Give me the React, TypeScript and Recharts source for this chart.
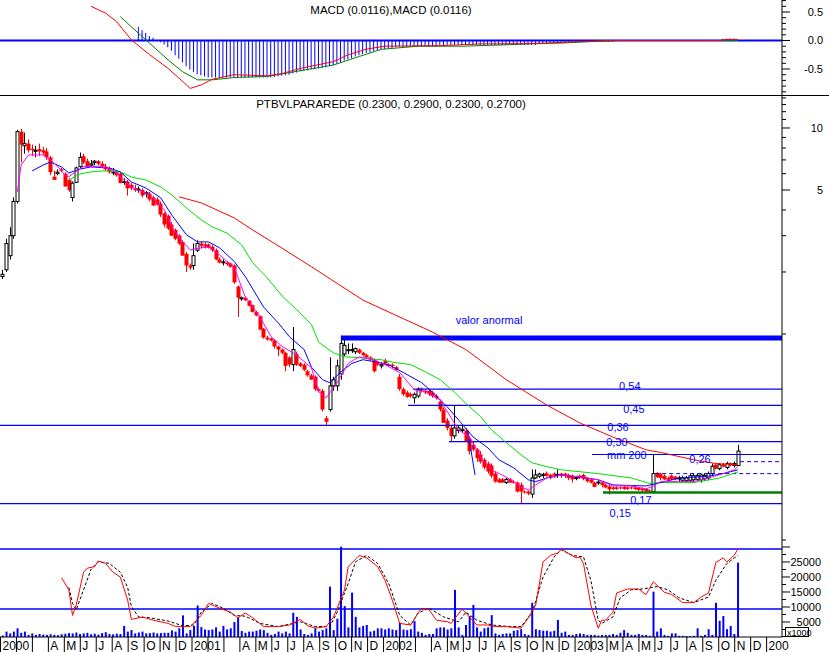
import {
  ComposedChart,
  Bar,
  Line,
  XAxis,
  YAxis,
  ReferenceLine,
  ReferenceDot,
} from "recharts";

// ---------------------------------------------------------------------------
// Weekly data, w = weeks since the first bar (early Jan 2000)
// ---------------------------------------------------------------------------

// [open, high, low, close]
const candles2000 = [
  [1.9, 2.05, 1.85, 1.95], [2.05, 2.9, 2.0, 2.75], [2.4, 3.3, 2.3, 3.0], [3.0, 4.6, 2.9, 4.4],
  [4.4, 9.8, 4.3, 9.6], [9.6, 9.9, 6.8, 8.3], [8.2, 9.5, 7.5, 8.4], [8.4, 8.8, 7.6, 7.8],
  [7.9, 8.3, 7.3, 7.8], [7.7, 8.2, 7.2, 7.8], [7.9, 8.4, 7.3, 7.7], [7.8, 8.1, 7.4, 7.6],
  [7.7, 8.0, 7.0, 7.2], [7.2, 7.3, 5.9, 6.1], [5.8, 6.2, 5.6, 5.6], [6.0, 6.3, 5.9, 6.1],
  [6.3, 6.4, 6.1, 6.2], [6.0, 6.1, 5.2, 5.2], [5.6, 5.7, 4.9, 5.0], [4.6, 5.5, 4.4, 5.4],
  [5.45, 6.5, 5.4, 6.4], [6.5, 7.6, 6.4, 7.2], [7.3, 7.5, 6.7, 6.8], [6.9, 7.1, 6.4, 6.5],
  [6.6, 7.0, 6.5, 6.7], [6.8, 7.0, 6.6, 6.9], [6.9, 7.0, 6.6, 6.7], [6.7, 6.9, 6.4, 6.5],
  [6.5, 6.7, 6.2, 6.3], [6.4, 6.5, 6.0, 6.1], [6.1, 6.4, 5.9, 6.12], [6.1, 6.2, 5.8, 5.9],
  [6.0, 6.1, 5.4, 5.4], [5.45, 5.7, 5.3, 5.5], [5.5, 5.6, 4.7, 5.1], [5.3, 5.4, 5.0, 5.1],
  [5.1, 5.3, 4.9, 5.0], [5.0, 5.2, 4.85, 5.05], [5.0, 5.1, 4.6, 4.7], [4.8, 4.95, 4.6, 4.85],
  [4.8, 4.9, 4.4, 4.5], [4.6, 4.7, 4.2, 4.2], [4.5, 4.6, 4.2, 4.25], [4.3, 4.4, 3.7, 3.8],
  [3.85, 3.9, 3.3, 3.4], [3.75, 3.8, 3.2, 3.25], [3.4, 3.5, 3.0, 3.0], [3.2, 3.25, 2.85, 2.9],
  [3.0, 3.05, 2.7, 2.75], [2.8, 2.85, 2.4, 2.4], [2.45, 2.5, 2.0, 2.15], [2.15, 2.2, 2.05, 2.1],
];

const candles2001 = [
  [2.15, 2.75, 2.05, 2.4], [2.55, 2.85, 2.5, 2.75], [2.75, 2.8, 2.6, 2.68], [2.72, 2.78, 2.6, 2.66],
  [2.72, 2.75, 2.6, 2.62], [2.65, 2.7, 2.5, 2.55], [2.55, 2.6, 2.28, 2.3], [2.3, 2.35, 2.2, 2.22],
  [2.22, 2.3, 2.15, 2.24], [2.22, 2.26, 2.15, 2.18], [2.2, 2.22, 2.1, 2.12], [2.15, 2.18, 1.75, 1.78],
  [1.7, 1.72, 1.21, 1.5], [1.48, 1.52, 1.45, 1.5], [1.5, 1.52, 1.44, 1.46], [1.45, 1.46, 1.36, 1.37],
  [1.38, 1.39, 1.27, 1.28], [1.28, 1.3, 1.22, 1.23], [1.22, 1.23, 1.05, 1.05], [1.06, 1.07, 0.95, 0.96],
  [0.96, 0.98, 0.93, 0.94], [0.95, 0.96, 0.92, 0.93], [0.93, 0.94, 0.85, 0.87], [0.87, 0.88, 0.78, 0.84],
  [0.84, 0.85, 0.8, 0.81], [0.81, 0.82, 0.66, 0.7], [0.77, 0.78, 0.69, 0.71], [0.71, 1.08, 0.66, 0.84],
  [0.8, 0.82, 0.7, 0.71], [0.72, 0.73, 0.69, 0.7], [0.71, 0.72, 0.66, 0.67], [0.66, 0.67, 0.62, 0.63],
  [0.63, 0.64, 0.6, 0.6], [0.62, 0.63, 0.53, 0.54], [0.54, 0.55, 0.52, 0.53], [0.53, 0.54, 0.42, 0.43],
  [0.39, 0.4, 0.36, 0.375], [0.43, 0.77, 0.42, 0.56], [0.56, 0.62, 0.53, 0.6], [0.56, 0.75, 0.53, 0.7],
  [0.64, 0.98, 0.6, 0.9], [0.8, 0.95, 0.78, 0.88], [0.83, 0.9, 0.8, 0.84], [0.83, 0.9, 0.81, 0.84],
  [0.82, 0.86, 0.8, 0.85], [0.84, 0.85, 0.8, 0.81], [0.81, 0.82, 0.78, 0.79], [0.79, 0.8, 0.76, 0.77],
  [0.77, 0.78, 0.74, 0.75], [0.75, 0.76, 0.65, 0.66], [0.73, 0.74, 0.7, 0.71], [0.7, 0.73, 0.68, 0.71],
];

const candles2002 = [
  [0.74, 0.76, 0.71, 0.72], [0.71, 0.72, 0.69, 0.7], [0.71, 0.72, 0.68, 0.7], [0.69, 0.7, 0.66, 0.67],
  [0.62, 0.64, 0.53, 0.54], [0.54, 0.55, 0.5, 0.51], [0.52, 0.53, 0.49, 0.495], [0.51, 0.52, 0.49, 0.5],
  [0.49, 0.52, 0.46, 0.51], [0.5, 0.55, 0.49, 0.54], [0.54, 0.55, 0.52, 0.53], [0.53, 0.54, 0.51, 0.52],
  [0.53, 0.54, 0.5, 0.51], [0.52, 0.53, 0.49, 0.5], [0.5, 0.51, 0.48, 0.49], [0.47, 0.48, 0.42, 0.43],
  [0.43, 0.44, 0.37, 0.37], [0.38, 0.39, 0.34, 0.35], [0.35, 0.36, 0.3, 0.32], [0.32, 0.45, 0.31, 0.35],
  [0.34, 0.36, 0.33, 0.35], [0.34, 0.36, 0.33, 0.345], [0.34, 0.35, 0.3, 0.3], [0.31, 0.32, 0.26, 0.27],
  [0.29, 0.3, 0.27, 0.275], [0.275, 0.28, 0.24, 0.25], [0.26, 0.27, 0.235, 0.24], [0.245, 0.25, 0.22, 0.225],
  [0.235, 0.24, 0.21, 0.215], [0.23, 0.235, 0.2, 0.205], [0.21, 0.215, 0.19, 0.192], [0.197, 0.2, 0.19, 0.19],
  [0.197, 0.2, 0.19, 0.19], [0.19, 0.2, 0.187, 0.197], [0.197, 0.2, 0.19, 0.19], [0.192, 0.195, 0.188, 0.19],
  [0.19, 0.192, 0.17, 0.172], [0.185, 0.19, 0.15, 0.172], [0.172, 0.174, 0.168, 0.17], [0.172, 0.174, 0.165, 0.168],
  [0.167, 0.22, 0.16, 0.2], [0.2, 0.22, 0.198, 0.207], [0.204, 0.212, 0.2, 0.209], [0.207, 0.212, 0.2, 0.208],
  [0.211, 0.215, 0.203, 0.205], [0.207, 0.21, 0.197, 0.2], [0.21, 0.213, 0.2, 0.205], [0.206, 0.22, 0.2, 0.208],
  [0.21, 0.212, 0.2, 0.205], [0.21, 0.212, 0.2, 0.205], [0.207, 0.21, 0.195, 0.2], [0.205, 0.208, 0.19, 0.197],
];

const candles2003 = [
  [0.2, 0.205, 0.195, 0.201], [0.205, 0.208, 0.198, 0.2], [0.207, 0.21, 0.195, 0.198], [0.2, 0.202, 0.19, 0.193],
  [0.196, 0.2, 0.188, 0.19], [0.19, 0.192, 0.18, 0.181], [0.19, 0.195, 0.185, 0.191], [0.19, 0.192, 0.18, 0.185],
  [0.185, 0.187, 0.178, 0.18], [0.182, 0.185, 0.166, 0.176], [0.18, 0.182, 0.175, 0.177], [0.18, 0.182, 0.175, 0.177],
  [0.18, 0.182, 0.176, 0.178], [0.181, 0.183, 0.175, 0.177], [0.18, 0.182, 0.175, 0.177], [0.18, 0.182, 0.176, 0.178],
  [0.18, 0.182, 0.175, 0.177], [0.179, 0.181, 0.173, 0.175], [0.178, 0.18, 0.172, 0.174], [0.177, 0.179, 0.17, 0.172],
  [0.174, 0.176, 0.17, 0.173], [0.172, 0.26, 0.17, 0.21], [0.212, 0.213, 0.2, 0.202], [0.21, 0.212, 0.195, 0.2],
  [0.205, 0.208, 0.195, 0.197], [0.2, 0.203, 0.193, 0.196], [0.205, 0.208, 0.195, 0.198], [0.203, 0.205, 0.195, 0.197],
  [0.198, 0.205, 0.193, 0.2], [0.195, 0.205, 0.19, 0.2], [0.194, 0.205, 0.19, 0.2], [0.195, 0.21, 0.19, 0.205],
  [0.196, 0.21, 0.192, 0.205], [0.197, 0.21, 0.193, 0.206], [0.196, 0.21, 0.19, 0.207], [0.198, 0.21, 0.193, 0.206],
  [0.2, 0.215, 0.195, 0.21], [0.21, 0.235, 0.205, 0.228], [0.232, 0.235, 0.22, 0.222], [0.222, 0.236, 0.218, 0.232],
  [0.233, 0.236, 0.225, 0.227], [0.225, 0.24, 0.22, 0.235], [0.236, 0.238, 0.228, 0.23], [0.23, 0.24, 0.225, 0.235],
  [0.23, 0.29, 0.23, 0.27],
];

// volume (axis in x1000)
const volume2000 = [
  500, 1800, 1200, 1800, 2900, 1400, 1800, 700, 1200, 700,
  1000, 800, 700, 900, 700, 600, 900, 1100, 1300, 1200,
  1500, 1000, 1200, 1400, 900, 1100, 800, 1300, 1600, 1000,
  900, 1100, 1000, 3700, 1800, 2300, 1200, 1500, 1800, 1200,
  1300, 1500, 1200, 1300, 1400, 1400, 2200, 1800, 2900, 7200,
  1200, 2300,
];
const volume2001 = [
  3700, 10500, 3300, 2500, 2300, 2500, 3200, 1800, 3700, 2500,
  2900, 5000, 6500, 2000, 1400, 1800, 1800, 2100, 2500, 2300,
  1400, 700, 1000, 1800, 1200, 1800, 1200, 8100, 6700, 2500,
  1000, 700, 1200, 2900, 1800, 2300, 2900, 16800, 2300, 6100,
  30100, 10300, 3200, 14800, 6700, 3200, 3700, 4000, 1800, 2100,
  2900, 2900,
];
const volume2002 = [
  2500, 2900, 2500, 2300, 4800, 2500, 2300, 2600, 5300, 1800,
  1400, 700, 1000, 1000, 2900, 3200, 3200, 2500, 2900, 15700,
  3200, 700, 4000, 7000, 10700, 3200, 1800, 2900, 3200, 7300,
  1200, 700, 1000, 1200, 1200, 2100, 2300, 2600, 1000, 700,
  11400, 2600, 2300, 2100, 2100, 1800, 2100, 5700, 1400, 1800,
  700, 700,
];
const volume2003 = [
  1000, 1200, 1000, 700, 700, 700, 500, 700, 700, 700,
  1000, 700, 1400, 2300, 1400, 700, 700, 1000, 700, 700,
  400, 15100, 1800, 2900, 700, 400, 1200, 1200, 400, 400,
  300, 300, 400, 2900, 400, 700, 2600, 700, 11400, 5400,
  7000, 2600, 3700, 1000, 24800,
];

// MACD histogram, one value per week from week 37
const macdHistStart = 37;
const macdHist = [
  0.24, 0.18, 0.13, 0.08, 0.05, 0.01, -0.03, -0.07, -0.12, -0.18,
  -0.26, -0.32, -0.38, -0.45, -0.51, -0.55, -0.59, -0.61, -0.63, -0.65,
  -0.65, -0.65, -0.65, -0.65, -0.65, -0.65, -0.65, -0.65, -0.65, -0.65,
  -0.65, -0.65, -0.65, -0.65, -0.65, -0.65, -0.65, -0.64, -0.63, -0.62,
  -0.61, -0.6, -0.58, -0.56, -0.54, -0.53, -0.52, -0.51, -0.5, -0.49,
  -0.48, -0.47, -0.45, -0.43, -0.41, -0.38, -0.35, -0.33, -0.31, -0.28,
  -0.26, -0.24, -0.22, -0.21, -0.19, -0.17, -0.16, -0.15, -0.14, -0.13,
  -0.12, -0.11, -0.11, -0.11, -0.11, -0.11, -0.11, -0.11, -0.11, -0.11,
  -0.11, -0.11, -0.08, -0.08, -0.08, -0.08, -0.08, -0.08, -0.08, -0.08,
  -0.08, -0.08, -0.08, -0.08, -0.08, -0.08, -0.08, -0.08, -0.08, -0.08,
  -0.08, -0.08, -0.08, -0.08, -0.08, -0.08, -0.08, -0.08, -0.08, -0.045,
  -0.045, -0.045, -0.045, -0.045, -0.045, -0.045, -0.045, -0.045, -0.045, -0.045,
  -0.02, -0.02, -0.02, -0.02, -0.02, -0.02, -0.02, -0.02, -0.02, -0.02,
  -0.01, -0.01, -0.01, -0.01, -0.01, -0.01, -0.01, -0.01, -0.01,
];
const macdHistLateStart = 196;
const macdHistLate = [0.03, 0.03, 0.03, 0.03, 0.02];

// [week, value]
const macdLine = [
  [24, 0.6], [28, 0.48], [31, 0.33], [35, 0.01], [40, -0.25], [45, -0.49], [49, -0.72],
  [51, -0.84], [54, -0.78], [57, -0.68], [63, -0.6], [72, -0.62], [76, -0.58], [81, -0.49],
  [90, -0.37], [94, -0.25], [99, -0.15], [104, -0.1], [119, -0.09], [130, -0.06], [141, -0.055],
  [148, -0.045], [157, -0.02], [165, 0], [195, 0], [197, 0.02], [200, 0.02],
];
const macdSignal = [
  [32, 0.42], [35, 0.24], [40, -0.05], [45, -0.34], [49, -0.55], [53, -0.69], [57, -0.69],
  [63, -0.65], [72, -0.63], [81, -0.53], [90, -0.43], [97, -0.28], [103, -0.155], [113, -0.1],
  [125, -0.1], [135, -0.08], [143, -0.06], [152, -0.045], [160, -0.02], [168, 0], [200, 0],
];

// moving averages on the price panel, [week, price]
const maFast = [
  [4, 4.9], [5, 6.6], [7, 7.4], [11, 7.4], [13, 7.0], [15, 6.5], [17, 5.9], [18, 5.8], [20, 6.15],
  [22, 6.5], [24, 6.5], [26, 6.54], [30, 6.25], [35, 5.17], [40, 4.73], [44, 4.0], [46, 3.31],
  [49, 2.8], [51, 2.56], [54, 2.62], [56, 2.65], [59, 2.42], [63, 2.1], [66, 1.51], [70, 1.21],
  [73, 0.97], [76, 0.87], [80, 0.79], [84, 0.685], [86, 0.525], [88, 0.49], [91, 0.58], [94, 0.72],
  [97, 0.775], [101, 0.75], [104, 0.71], [108, 0.65], [112, 0.535], [115, 0.525], [119, 0.478],
  [122, 0.392], [124, 0.342], [127, 0.316], [130, 0.253], [133, 0.219], [137, 0.202], [141, 0.181],
  [143, 0.175], [145, 0.185], [148, 0.2], [152, 0.207], [157, 0.202], [162, 0.196], [166, 0.183],
  [171, 0.183], [175, 0.177], [177, 0.183], [179, 0.192], [188, 0.192], [192, 0.2], [196, 0.21],
  [199, 0.219], [200, 0.227],
];
const maMid = [
  [8, 6.19], [11, 6.61], [13, 6.84], [16, 6.47], [18, 6.05], [21, 6.32], [24, 6.47], [29, 6.39],
  [32, 6.12], [35, 5.47], [39, 5.11], [43, 4.58], [46, 3.78], [50, 3.03], [53, 2.8], [56, 2.8],
  [59, 2.62], [63, 2.25], [66, 1.9], [71, 1.35], [75, 1.13], [78, 0.97], [82, 0.84], [84, 0.69],
  [87, 0.6], [89, 0.58], [92, 0.655], [95, 0.72], [98, 0.75], [102, 0.73], [105, 0.71], [109, 0.65],
  [114, 0.58], [117, 0.52], [121, 0.442], [124, 0.383], [128, 0.316], [132, 0.28], [135, 0.245],
  [139, 0.224], [143, 0.196], [145, 0.192], [148, 0.2], [152, 0.207], [157, 0.202], [162, 0.196],
  [166, 0.185], [175, 0.183], [179, 0.19], [184, 0.2], [192, 0.204], [196, 0.21], [200, 0.219],
];
const maSlow = [
  [18, 5.59], [21, 5.98], [24, 6.12], [27, 6.19], [29, 6.19], [32, 6.12], [35, 5.78], [39, 5.59],
  [43, 5.17], [46, 4.73], [50, 4.09], [54, 3.58], [57, 3.31], [61, 3.09], [65, 2.71], [68, 2.22],
  [72, 1.87], [76, 1.53], [80, 1.31], [84, 1.11], [86, 0.91], [90, 0.81], [93, 0.775], [97, 0.767],
  [103, 0.75], [106, 0.73], [111, 0.71], [115, 0.655], [119, 0.6], [123, 0.52], [126, 0.46],
  [130, 0.397], [133, 0.342], [137, 0.297], [141, 0.259], [144, 0.237], [148, 0.227], [152, 0.219],
  [162, 0.21], [171, 0.2], [176, 0.188], [179, 0.19], [188, 0.19], [195, 0.2], [200, 0.214],
];
const maLong = [
  [48, 4.63], [54, 4.33], [63, 3.66], [68, 3.2], [76, 2.61], [84, 2.12], [98, 1.46], [117, 1.02],
  [126, 0.84], [137, 0.6], [148, 0.452], [157, 0.37], [166, 0.316], [170, 0.297], [175, 0.274],
  [179, 0.266], [188, 0.245], [194, 0.235], [200, 0.232],
];

// stochastic %K and %D, [week, value]
const stochK = [
  [16, 64], [18, 49], [19, 17], [20, 30], [22, 71], [23, 76], [25, 78], [26, 85], [28, 82], [30, 71],
  [32, 65], [34, 36], [35, 12], [38, 15], [41, 11], [45, 7], [47, 3], [51, 3], [54, 17], [56, 32],
  [59, 26], [62, 21], [64, 14], [66, 20], [68, 14], [71, 3], [75, 3], [78, 5], [81, 12], [83, 4],
  [85, 1], [88, 3], [90, 15], [93, 49], [94, 78], [97, 92], [99, 89], [102, 78], [104, 61], [106, 36],
  [108, 7], [111, 5], [113, 20], [114, 26], [116, 24], [118, 11], [121, 9], [122, 7], [125, 25],
  [127, 15], [129, 5], [132, 5], [134, 3], [137, 3], [141, 1], [143, 14], [145, 30], [147, 84],
  [149, 92], [151, 95], [152, 100], [154, 94], [156, 89], [157, 90], [158, 82], [160, 30], [162, 1],
  [163, 11], [164, 11], [166, 21], [167, 45], [170, 50], [173, 50], [175, 43], [177, 59], [180, 46],
  [182, 43], [185, 33], [188, 33], [190, 40], [192, 45], [194, 83], [196, 89], [197, 84], [199, 92],
  [200, 100],
];
const stochD = [
  [18, 52], [19, 32], [20, 24], [22, 49], [24, 74], [26, 84], [29, 82], [32, 71], [34, 52], [35, 28],
  [37, 15], [40, 14], [45, 10], [49, 4], [52, 5], [54, 21], [57, 32], [60, 26], [63, 17], [66, 16],
  [70, 7], [75, 3], [79, 7], [81, 9], [85, 3], [89, 3], [91, 21], [94, 57], [96, 84], [99, 92],
  [102, 82], [105, 57], [108, 17], [111, 5], [113, 20], [116, 26], [120, 15], [124, 9], [126, 21],
  [129, 11], [133, 5], [138, 3], [141, 3], [144, 20], [147, 65], [150, 90], [152, 99], [155, 92],
  [158, 90], [160, 61], [162, 11], [163, 7], [166, 15], [168, 39], [171, 49], [174, 50], [178, 53],
  [181, 49], [184, 39], [188, 33], [192, 40], [194, 61], [197, 82], [200, 92],
];

// one label per month from Jan 2000 ("" where the software left it out)
const monthLabels = [
  "2000", "", "", "A", "M", "J", "J", "A", "S", "O", "N", "D",
  "2001", "", "", "A", "M", "J", "J", "A", "S", "O", "N", "D",
  "2002", "", "", "A", "M", "J", "J", "A", "S", "O", "N", "D",
  "2003", "", "M", "A", "M", "J", "J", "A", "S", "O", "N", "D",
  "200",
];

// drawn price levels: [price, first week]
const levelLines = [
  [0.54, 111.6], [0.45, 110.3], [0.3, 121.4], [0.26, 160.3],
];
const fullLevels = [0.36, 0.15];
const supportLevel = [0.17, 163.3];
const abnormalLevel = [0.957, 92];
const dashedLevels = [
  [0.24, 200.6], [0.21, 177.5],
];
const trendLine = [
  [126.5, 0.34], [128.5, 0.207],
];
// annotation text: [text, week, price]
const annotations: [string, number, number][] = [
  ["valor anormal", 132.3, 1.17],
  ["0,54", 170.6, 0.559],
  ["0,45", 171.7, 0.432],
  ["0,36", 167.4, 0.355],
  ["0,30", 167.1, 0.299],
  ["mm 200", 169.8, 0.258],
  ["0,26", 189.7, 0.246],
  ["0,17", 173.6, 0.157],
  ["0,15", 168, 0.135],
];

// ---------------------------------------------------------------------------
// Layout constants
// ---------------------------------------------------------------------------

const W = 829;
const AXIS_W = 47;
const X_DOMAIN: [number, number] = [-0.73, 212];
const FIRST_MONTH_WEEK = -0.6;
const WEEKS_PER_MONTH = 4.342;

const FONT = '"Liberation Sans", Arial, sans-serif';
const BLUE = "#0000ff";

// ---------------------------------------------------------------------------
// Build rows
// ---------------------------------------------------------------------------

const candles = [...candles2000, ...candles2001, ...candles2002, ...candles2003];
const volumes = [...volume2000, ...volume2001, ...volume2002, ...volume2003];

type Row = Record<string, number | undefined>;

function weekRows(): Row[] {
  return candles.map((_, w) => ({ w }));
}

function put(rows: Row[], key: string, pairs: number[][]) {
  pairs.forEach(([w, v]) => {
    if (rows[w]) rows[w][key] = v;
  });
}

const priceRows = weekRows();
candles.forEach(([o, h, l, c], w) => Object.assign(priceRows[w], { o, h, l, c }));
put(priceRows, "fast", maFast);
put(priceRows, "mid", maMid);
put(priceRows, "slow", maSlow);
put(priceRows, "long", maLong);

const macdRows = weekRows();
macdHist.forEach((v, k) => (macdRows[macdHistStart + k].hist = v));
macdHistLate.forEach((v, k) => (macdRows[macdHistLateStart + k].hist = v));
put(macdRows, "macd", macdLine);
put(macdRows, "signal", macdSignal);

const lowerRows = weekRows();
volumes.forEach((v, w) => (lowerRows[w].vol = v));
put(lowerRows, "k", stochK);
put(lowerRows, "d", stochD);

const monthTicks = monthLabels.map((_, m) => FIRST_MONTH_WEEK + m * WEEKS_PER_MONTH);
const macdTicks = Array.from({ length: 17 }, (_, k) => Math.round((-0.9 + k * 0.1) * 10) / 10);
const priceTicks = [14, 13, 12, 11, 10, 9, 8, 7, 6, 5, 4, 3, 2, 1, 0.1];
const volumeTicks = Array.from({ length: 12 }, (_, k) => (k + 1) * 2500);

// ---------------------------------------------------------------------------
// Shapes and ticks
// ---------------------------------------------------------------------------

function Candle(props: any) {
  const { x, y, width, height } = props;
  const p = props.payload ?? props;
  if (x == null || y == null || p.o == null) return null;
  const top = Math.min(y, y + height);
  const span = Math.abs(height);
  const lh = Math.log(p.h);
  const ll = Math.log(p.l);
  const at = (v: number) => (lh === ll ? top : top + (span * (lh - Math.log(v))) / (lh - ll));
  const up = p.c >= p.o;
  const color = up ? "#000000" : "#ff0000";
  const mid = Math.round(x + width / 2) + 0.5;
  const bTop = at(Math.max(p.o, p.c));
  const bBot = at(Math.min(p.o, p.c));
  const bh = Math.max(bBot - bTop, 1);
  return (
    <g>
      <line x1={mid} x2={mid} y1={top} y2={top + span} stroke={color} strokeWidth={1} />
      {up ? (
        <rect x={mid - 1.5} y={bTop} width={3} height={bh} fill="#ffffff" stroke={color} strokeWidth={1} />
      ) : (
        <rect x={mid - 2} y={bTop} width={4} height={bh} fill={color} />
      )}
    </g>
  );
}

function rightTick(majors: number[], fmt: (v: number) => string, labelOffset: number) {
  return (props: any) => {
    const { x, y, payload } = props;
    const v = payload.value;
    const major = majors.some((m) => Math.abs(m - v) < 1e-9);
    return (
      <g>
        <line x1={x} x2={x + (major ? 8 : 4)} y1={y} y2={y} stroke="#000" />
        {major && fmt(v) !== "" && (
          <text x={x + labelOffset} y={y + 4} textAnchor="end" fontSize={11} fontFamily={FONT} fill="#000">
            {fmt(v)}
          </text>
        )}
      </g>
    );
  };
}

const macdTick = rightTick([0.5, 0, -0.5], (v) => v.toFixed(1), 41);
const priceTick = rightTick([10, 5], (v) => String(v), 41);
const volumeTick = rightTick([5000, 10000, 15000, 20000, 25000, 30000], (v) => (v < 30000 ? String(v) : ""), 39);

function DateTick(props: any) {
  const { x, y, payload } = props;
  const m = Math.round((payload.value - FIRST_MONTH_WEEK) / WEEKS_PER_MONTH);
  return (
    <g>
      <line x1={x} x2={x} y1={y} y2={y + 15} stroke="#000" />
      <text x={x + 2} y={y + 13} fontSize={12} fontFamily={FONT} fill="#000">
        {monthLabels[m]}
      </text>
    </g>
  );
}

const noMargin = { top: 0, right: 0, bottom: 0, left: 0 };

// ---------------------------------------------------------------------------
// App
// ---------------------------------------------------------------------------

export default function App() {
  return (
    <div style={{ position: "absolute", left: 0, top: 0, width: W, height: 652, background: "#fff", fontFamily: FONT }}>
      {/* MACD panel */}
      <div style={{ position: "absolute", left: 0, top: 0 }}>
        <ComposedChart width={W} height={96} data={macdRows} margin={noMargin}>
          <XAxis type="number" dataKey="w" domain={X_DOMAIN} allowDataOverflow hide />
          <YAxis
            orientation="right"
            width={AXIS_W}
            domain={[-0.9737, 0.7105]}
            allowDataOverflow
            ticks={macdTicks}
            interval={0}
            tick={macdTick}
            tickLine={false}
            tickSize={0}
            tickMargin={0}
            axisLine={{ stroke: "#000" }}
          />
          <ReferenceLine y={0} stroke={BLUE} strokeWidth={2} />
          <Bar dataKey="hist" fill={BLUE} barSize={1} isAnimationActive={false} />
          <Line dataKey="signal" stroke="#008000" dot={false} activeDot={false} connectNulls isAnimationActive={false} strokeWidth={1} />
          <Line dataKey="macd" stroke="#ff0000" dot={false} activeDot={false} connectNulls isAnimationActive={false} strokeWidth={1} />
        </ComposedChart>
      </div>

      {/* Price panel */}
      <div style={{ position: "absolute", left: 0, top: 96 }}>
        <ComposedChart width={W} height={450} data={priceRows} margin={noMargin}>
          <XAxis type="number" dataKey="w" domain={X_DOMAIN} allowDataOverflow hide />
          <YAxis
            orientation="right"
            width={AXIS_W}
            scale="log"
            domain={[0.0935, 14.3]}
            allowDataOverflow
            ticks={priceTicks}
            interval={0}
            tick={priceTick}
            tickLine={false}
            tickSize={0}
            tickMargin={0}
            axisLine={{ stroke: "#000" }}
          />
          {fullLevels.map((p) => (
            <ReferenceLine key={`full-${p}`} y={p} stroke={BLUE} strokeWidth={1.2} />
          ))}
          {levelLines.map(([p, from]) => (
            <ReferenceLine
              key={`lvl-${p}`}
              segment={[{ x: from, y: p }, { x: X_DOMAIN[1], y: p }]}
              stroke={BLUE}
              strokeWidth={1.2}
              ifOverflow="hidden"
            />
          ))}
          {dashedLevels.map(([p, from]) => (
            <ReferenceLine
              key={`dash-${p}`}
              segment={[{ x: from, y: p }, { x: X_DOMAIN[1], y: p }]}
              stroke={BLUE}
              strokeDasharray="4 3"
              ifOverflow="hidden"
            />
          ))}
          <ReferenceLine
            segment={[{ x: supportLevel[1], y: supportLevel[0] }, { x: X_DOMAIN[1], y: supportLevel[0] }]}
            stroke="#008000"
            strokeWidth={2.5}
            ifOverflow="hidden"
          />
          <ReferenceLine
            segment={[{ x: abnormalLevel[1], y: abnormalLevel[0] }, { x: X_DOMAIN[1], y: abnormalLevel[0] }]}
            stroke={BLUE}
            strokeWidth={5}
            ifOverflow="hidden"
          />
          <ReferenceLine
            segment={[{ x: trendLine[0][0], y: trendLine[0][1] }, { x: trendLine[1][0], y: trendLine[1][1] }]}
            stroke={BLUE}
            ifOverflow="hidden"
          />
          <Line dataKey="long" stroke="#ff0000" dot={false} activeDot={false} connectNulls isAnimationActive={false} strokeWidth={1} />
          <Line dataKey="slow" stroke="#00e000" dot={false} activeDot={false} connectNulls isAnimationActive={false} strokeWidth={1} />
          <Line dataKey="mid" stroke={BLUE} dot={false} activeDot={false} connectNulls isAnimationActive={false} strokeWidth={1} />
          <Line dataKey="fast" stroke="#ff00ff" dot={false} activeDot={false} connectNulls isAnimationActive={false} strokeWidth={1} />
          <Bar
            dataKey={(d: any) => (d.o == null ? undefined : [d.l, d.h])}
            barSize={3}
            shape={(p: any) => <Candle {...p} />}
            isAnimationActive={false}
          />
          {annotations.map(([text, w, p]) => (
            <ReferenceDot
              key={text}
              x={w}
              y={p}
              r={0}
              fill="none"
              stroke="none"
              ifOverflow="visible"
              label={{ value: text, fill: BLUE, fontSize: 11, fontFamily: FONT }}
            />
          ))}
        </ComposedChart>
      </div>

      {/* Volume + stochastic panel with date axis */}
      <div style={{ position: "absolute", left: 0, top: 546 }}>
        <ComposedChart width={W} height={106} data={lowerRows} margin={noMargin}>
          <XAxis
            type="number"
            dataKey="w"
            domain={X_DOMAIN}
            allowDataOverflow
            ticks={monthTicks}
            interval={0}
            tick={<DateTick />}
            tickLine={false}
            tickSize={0}
            tickMargin={0}
            height={15}
            axisLine={{ stroke: "#000" }}
          />
          <YAxis
            yAxisId="v"
            orientation="right"
            width={AXIS_W}
            domain={[0, 30333]}
            allowDataOverflow
            ticks={volumeTicks}
            interval={0}
            tick={volumeTick}
            tickLine={false}
            tickSize={0}
            tickMargin={0}
            axisLine={{ stroke: "#000" }}
          />
          <YAxis yAxisId="s" hide domain={[-10, 103.75]} allowDataOverflow />
          <ReferenceLine yAxisId="s" y={100} stroke={BLUE} strokeWidth={1.3} />
          <ReferenceLine yAxisId="s" y={25} stroke={BLUE} strokeWidth={1.3} />
          <Bar yAxisId="v" dataKey="vol" fill={BLUE} barSize={2} isAnimationActive={false} />
          <Line yAxisId="s" dataKey="d" stroke="#000" strokeDasharray="3 2" dot={false} activeDot={false} connectNulls isAnimationActive={false} strokeWidth={1} />
          <Line yAxisId="s" dataKey="k" stroke="#ff0000" dot={false} activeDot={false} connectNulls isAnimationActive={false} strokeWidth={1} />
        </ComposedChart>
      </div>

      {/* titles, panel rule, unit box */}
      <svg width={W} height={652} style={{ position: "absolute", left: 0, top: 0, pointerEvents: "none" }}>
        <line x1={0} x2={W} y1={95.5} y2={95.5} stroke="#000" />
        <text x={391} y={14} textAnchor="middle" fontSize={11.5} fontFamily={FONT} fill="#000">
          MACD (0.0116),MACD (0.0116)
        </text>
        <text x={391} y={108} textAnchor="middle" fontSize={11.5} fontFamily={FONT} fill="#000">
          PTBVLPARAREDE (0.2300, 0.2900, 0.2300, 0.2700)
        </text>
        <line x1={782} x2={808.5} y1={636.5} y2={636.5} stroke="#000" />
        <rect x={785.5} y={627.5} width={23} height={9} fill="#fff" stroke="#000" />
        <text x={787} y={635.5} fontSize={9} fontFamily={FONT} fill="#000">
          x1000
        </text>
      </svg>
    </div>
  );
}
